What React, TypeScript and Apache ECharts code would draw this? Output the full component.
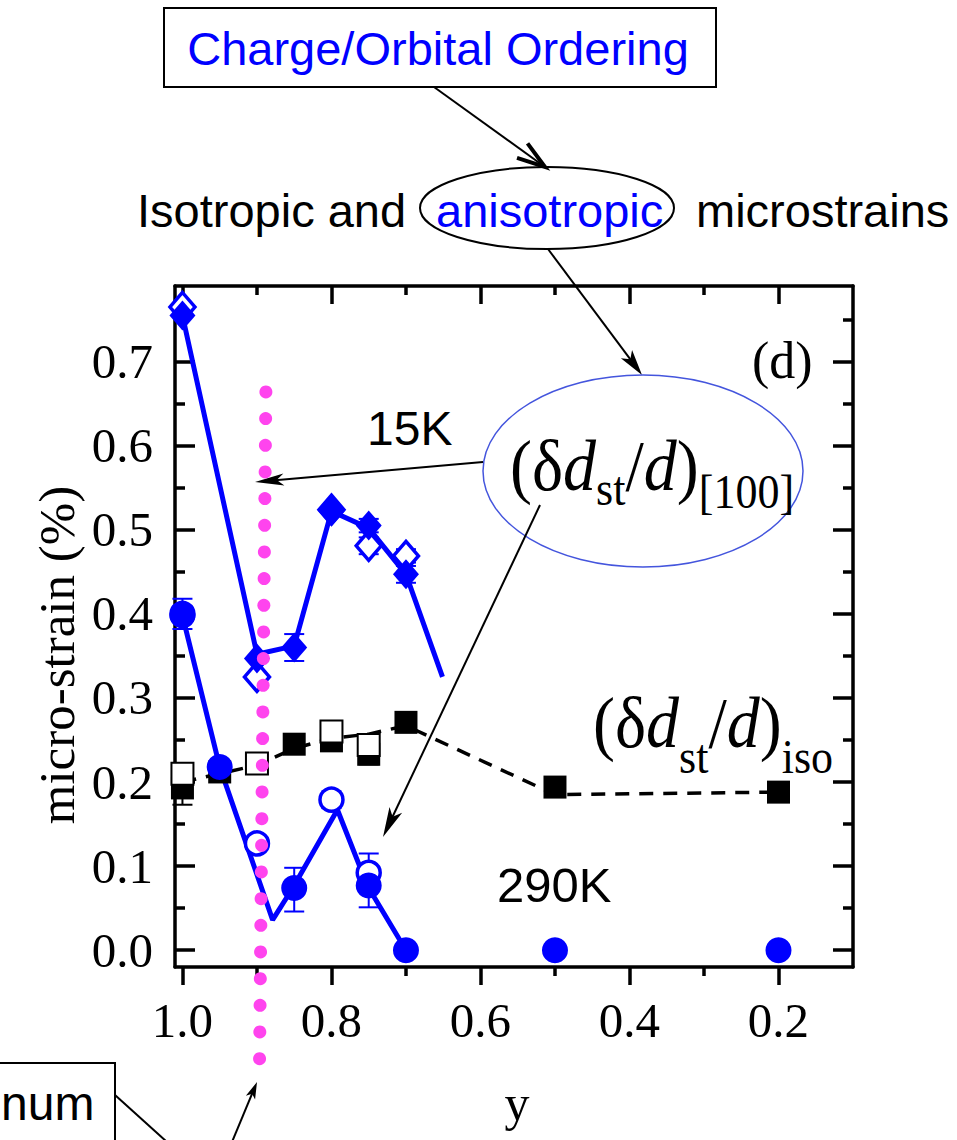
import { useEffect, useRef } from 'react';
import * as echarts from 'echarts';

// Axis ticks
const xMajorTicks = [1.0, 0.8, 0.6, 0.4, 0.2];
const xMinorTicks = [0.9, 0.7, 0.5, 0.3];
const yMajorTicks = [0.0, 0.1, 0.2, 0.3, 0.4, 0.5, 0.6, 0.7];
const yMinorTicks = [0.05, 0.15, 0.25, 0.35, 0.45, 0.55, 0.65, 0.75];

// Anisotropic [100] micro-strain, 15 K
const aniso15KFilled = [[1.0, 0.755], [0.9, 0.347], [0.85, 0.36], [0.8, 0.522], [0.75, 0.505], [0.7, 0.447]];
const aniso15KOpen = [[1.0, 0.765], [0.9, 0.325], [0.8, 0.524], [0.75, 0.481], [0.7, 0.469]];
const aniso15KFit = [[1.0, 0.755], [0.9, 0.352], [0.85, 0.362], [0.8, 0.522], [0.75, 0.502], [0.7, 0.447], [0.651, 0.325]];

// Anisotropic [100] micro-strain, 290 K
const aniso290KFilled = [[1.0, 0.398], [0.95, 0.218], [0.85, 0.074], [0.75, 0.077], [0.7, 0.0], [0.5, 0.0], [0.2, 0.0]];
const aniso290KOpen = [[1.0, 0.4], [0.9, 0.127], [0.8, 0.179], [0.75, 0.092]];
const aniso290KFit = [[1.0, 0.398], [0.95, 0.218], [0.879, 0.036], [0.852, 0.074], [0.792, 0.167], [0.752, 0.077], [0.7, 0.0]];

// Isotropic micro-strain
const isoFilled = [[1.0, 0.193], [0.95, 0.212], [0.85, 0.245], [0.8, 0.249], [0.75, 0.233], [0.7, 0.271], [0.5, 0.194], [0.2, 0.188]];
const isoOpen = [[1.0, 0.21], [0.9, 0.222], [0.8, 0.26], [0.75, 0.244]];
const isoFit = [[1.0, 0.2], [0.95, 0.21], [0.9, 0.22], [0.85, 0.24], [0.8, 0.252], [0.75, 0.257], [0.7, 0.267], [0.5, 0.185], [0.2, 0.188]];

// Error bars: [y, value, half-width]
const blueErrors = [
  [0.85, 0.36, 0.016], [0.75, 0.505, 0.008], [0.7, 0.447, 0.01], [0.75, 0.481, 0.01], [0.7, 0.469, 0.008],
  [0.85, 0.072, 0.026], [0.75, 0.083, 0.032], [0.8, 0.179, 0.01], [1.0, 0.4, 0.018],
];
const blackErrors = [[1.0, 0.193, 0.02], [0.8, 0.249, 0.012], [0.75, 0.233, 0.012]];

// Dotted guide at the composition of the minimum: end points and number of gaps
const guideLine = [[0.8965, -0.129], [0.888, 0.664]];
const guideGaps = 25;

const BLUE = '#0000ff';
const PINK = '#ff44ee';
const SERIF = 'Liberation Serif';
const SANS = 'Liberation Sans';

const ctx = typeof document !== 'undefined' ? document.createElement('canvas').getContext('2d') : null;
function textWidth(t: string, font: string): number {
  if (!ctx) return t.length * 20;
  ctx.font = font;
  return ctx.measureText(t).width;
}

type Piece = { t: string; size: number; italic?: boolean; dy?: number };

// Lays out a formula on a common baseline, stretched slightly upward
function formula(pieces: Piece[], x0: number, base: number, stretch: number) {
  let x = x0;
  const out: any[] = [];
  for (const p of pieces) {
    out.push({
      type: 'text',
      x,
      y: (p.dy || 0) / stretch - 0.3375 * p.size,
      style: {
        text: p.t,
        fontFamily: SERIF,
        fontSize: p.size,
        fontStyle: p.italic ? 'italic' : 'normal',
        fill: '#000',
        align: 'left',
        verticalAlign: 'middle',
      },
    });
    x += textWidth(p.t, `${p.italic ? 'italic ' : ''}${p.size}px "${SERIF}"`);
  }
  return { type: 'group', x: 0, y: base, scaleY: stretch, children: out };
}

function sansText(text: string, x: number, base: number, size: number, fill = '#000', align = 'left') {
  return {
    type: 'text',
    x,
    y: base - 0.3465 * size,
    style: { text, fontFamily: SANS, fontSize: size, fill, align, verticalAlign: 'middle' },
  };
}

function arrow(x1: number, y1: number, x2: number, y2: number, headLen: number, headHalf: number, open = false, width = 2) {
  const dx = x2 - x1;
  const dy = y2 - y1;
  const L = Math.hypot(dx, dy);
  const ux = dx / L;
  const uy = dy / L;
  const bx = x2 - ux * headLen;
  const by = y2 - uy * headLen;
  const px = -uy;
  const py = ux;
  const p1 = [bx + px * headHalf, by + py * headHalf];
  const p2 = [bx - px * headHalf, by - py * headHalf];
  const shaftEnd = open ? [x2, y2] : [x2 - ux * headLen * 0.7, y2 - uy * headLen * 0.7];
  return [
    { type: 'line', shape: { x1, y1, x2: shaftEnd[0], y2: shaftEnd[1] }, style: { stroke: '#000', lineWidth: width } },
    open
      ? { type: 'polyline', shape: { points: [p1, [x2, y2], p2] }, style: { stroke: '#000', lineWidth: 4, fill: 'none' } }
      : { type: 'polygon', shape: { points: [[x2, y2], p1, [x2 - ux * headLen * 0.75, y2 - uy * headLen * 0.75], p2] }, style: { fill: '#000' } },
  ];
}

function errorSeries(data: number[][], color: string, z: number) {
  return {
    type: 'custom',
    xAxisIndex: 0,
    yAxisIndex: 0,
    z,
    encode: { x: 0, y: 1 },
    data,
    renderItem: (_params: any, api: any) => {
      const x = api.value(0);
      const v = api.value(1);
      const e = api.value(2);
      const top = api.coord([x, v + e]);
      const bot = api.coord([x, v - e]);
      const hw = 10;
      const st = { stroke: color, lineWidth: 2 };
      return {
        type: 'group',
        children: [
          { type: 'line', shape: { x1: top[0], y1: top[1], x2: bot[0], y2: bot[1] }, style: st },
          { type: 'line', shape: { x1: top[0] - hw, y1: top[1], x2: top[0] + hw, y2: top[1] }, style: st },
          { type: 'line', shape: { x1: bot[0] - hw, y1: bot[1], x2: bot[0] + hw, y2: bot[1] }, style: st },
        ],
      };
    },
  };
}

const AXIS_W = 3.5;

function xAxisDef(position: 'bottom' | 'top', ticks: number[], len: number, inside: boolean, labels: boolean, line: boolean) {
  return {
    type: 'value',
    min: 0.1,
    max: 1.01,
    inverse: true,
    position,
    axisLine: { show: line, onZero: false, lineStyle: { color: '#000', width: AXIS_W } },
    axisTick: { show: true, inside, length: len, customValues: ticks, lineStyle: { color: '#000', width: AXIS_W } },
    axisLabel: labels
      ? { show: true, customValues: ticks, formatter: (v: number) => v.toFixed(1), fontFamily: SERIF, fontSize: 49, color: '#000', margin: 29 }
      : { show: false },
    splitLine: { show: false },
  };
}

function yAxisDef(position: 'left' | 'right', ticks: number[], len: number, labels: boolean, line: boolean) {
  return {
    type: 'value',
    min: -0.02,
    max: 0.79,
    position,
    axisLine: { show: line, onZero: false, lineStyle: { color: '#000', width: AXIS_W } },
    axisTick: { show: true, inside: true, length: len, customValues: ticks, lineStyle: { color: '#000', width: AXIS_W } },
    axisLabel: labels
      ? { show: true, customValues: ticks, formatter: (v: number) => v.toFixed(1), fontFamily: SERIF, fontSize: 49, color: '#000', margin: 22 }
      : { show: false },
    splitLine: { show: false },
  };
}

const solid = (color: string, extra: any = {}) => ({ color, opacity: 1, ...extra });

export default function App() {
  const ref = useRef<HTMLDivElement>(null);

  useEffect(() => {
    document.body.style.margin = '0';
    if (!ref.current) return;
    const chart = echarts.init(ref.current, undefined, { renderer: 'svg' });

    const graphics: any[] = [
      // Top box and caption
      { type: 'rect', shape: { x: 164, y: 8, width: 552, height: 79 }, style: { fill: 'none', stroke: '#000', lineWidth: 2 } },
      sansText('Charge/Orbital Ordering', 438, 65, 47, BLUE, 'center'),
      ...arrow(434, 87, 545, 167, 28, 9, true, 2),
      sansText('Isotropic and', 137, 227, 47),
      sansText('anisotropic', 436, 227, 47, BLUE),
      sansText('microstrains', 696, 227, 47),
      { type: 'ellipse', shape: { cx: 547, cy: 208, rx: 127, ry: 41 }, style: { fill: 'none', stroke: '#000', lineWidth: 2 } },
      ...arrow(548, 249, 642, 375, 26, 7),
      // [100] label
      { type: 'ellipse', shape: { cx: 643, cy: 471, rx: 160, ry: 96 }, style: { fill: 'none', stroke: '#4455dd', lineWidth: 1.5 } },
      formula(
        [
          { t: '(δ', size: 66 },
          { t: 'd', size: 66, italic: true },
          { t: 'st', size: 44, dy: 15 },
          { t: '/', size: 66 },
          { t: 'd', size: 66, italic: true },
          { t: ')', size: 66 },
          { t: '[100]', size: 44, dy: 18 },
        ],
        510,
        490,
        1.1,
      ),
      ...arrow(483, 462, 255, 482, 29, 6),
      ...arrow(540, 505, 383, 837, 30, 7),
      // iso label
      formula(
        [
          { t: '(δ', size: 66 },
          { t: 'd', size: 66, italic: true },
          { t: 'st', size: 44, dy: 26 },
          { t: '/', size: 66 },
          { t: 'd', size: 66, italic: true },
          { t: ')', size: 66 },
          { t: 'iso', size: 44, dy: 26 },
        ],
        593,
        747,
        1.1,
      ),
      sansText('15K', 367, 445, 48),
      sansText('290K', 497, 902, 49),
      {
        type: 'text', x: 752, y: 378 - 0.3375 * 52,
        style: { text: '(d)', fontFamily: SERIF, fontSize: 52, fill: '#000', align: 'left', verticalAlign: 'middle' },
      },
      // Axis titles
      {
        type: 'text', x: 57, y: 655, rotation: Math.PI / 2,
        style: { text: 'micro-strain (%)', fontFamily: SERIF, fontSize: 51, fill: '#000', align: 'center', verticalAlign: 'middle' },
      },
      {
        type: 'text', x: 517, y: 1120 - 0.3375 * 50,
        style: { text: 'y', fontFamily: SERIF, fontSize: 50, fill: '#000', align: 'center', verticalAlign: 'middle' },
      },
      // Lower-left note
      { type: 'rect', shape: { x: -10, y: 1063, width: 125, height: 100 }, style: { fill: 'none', stroke: '#000', lineWidth: 2 } },
      sansText('num', 1, 1120, 48),
      { type: 'line', shape: { x1: 115, y1: 1095, x2: 167, y2: 1142 }, style: { stroke: '#000', lineWidth: 2 } },
      ...arrow(232, 1142, 257, 1082, 17, 5),
    ];

    chart.setOption({
      animation: false,
      backgroundColor: '#fff',
      grid: { left: 175, right: 104, top: 286, bottom: 173 },
      xAxis: [
        xAxisDef('bottom', xMajorTicks, 18, false, true, true),
        xAxisDef('bottom', xMinorTicks, 9, false, false, false),
        xAxisDef('top', xMajorTicks, 18, true, false, true),
        xAxisDef('top', xMinorTicks, 9, true, false, false),
      ],
      yAxis: [
        yAxisDef('left', yMajorTicks, 20, true, true),
        yAxisDef('left', yMinorTicks, 10, false, false),
        yAxisDef('right', yMajorTicks, 20, false, true),
        yAxisDef('right', yMinorTicks, 10, false, false),
      ],
      series: [
        {
          type: 'line', data: isoFit, symbol: 'none', z: 2,
          lineStyle: { color: '#000', width: 3.5, type: [14, 10], opacity: 1 },
        },
        { type: 'line', data: aniso15KFit, symbol: 'none', z: 2, lineStyle: { color: BLUE, width: 5, opacity: 1 } },
        { type: 'line', data: aniso290KFit, symbol: 'none', z: 2, lineStyle: { color: BLUE, width: 5, opacity: 1 } },
        errorSeries(blackErrors, '#000', 3),
        { type: 'scatter', data: isoFilled, symbol: 'rect', symbolSize: 23, z: 3, itemStyle: solid('#000') },
        {
          type: 'scatter', data: isoOpen, symbol: 'rect', symbolSize: 22, z: 4,
          itemStyle: solid('#fff', { borderColor: '#000', borderWidth: 2 }),
        },
        errorSeries(blueErrors, BLUE, 5),
        {
          type: 'scatter', data: aniso15KOpen, symbol: 'diamond', symbolSize: [25, 29], z: 5,
          itemStyle: solid('#fff', { borderColor: BLUE, borderWidth: 3.5 }),
        },
        {
          type: 'scatter', data: aniso290KOpen, symbol: 'circle', symbolSize: 23, z: 5,
          itemStyle: solid('#fff', { borderColor: BLUE, borderWidth: 3.5 }),
        },
        { type: 'scatter', data: aniso15KFilled, symbol: 'diamond', symbolSize: [26, 30], z: 6, itemStyle: solid(BLUE) },
        { type: 'scatter', data: aniso290KFilled, symbol: 'circle', symbolSize: 26, z: 6, itemStyle: solid(BLUE) },
      ],
      graphic: { elements: graphics },
    });

    // Dotted magenta guide, placed through the axes' own scales
    const a = chart.convertToPixel({ xAxisIndex: 0, yAxisIndex: 0 }, guideLine[0]) as number[];
    const b = chart.convertToPixel({ xAxisIndex: 0, yAxisIndex: 0 }, guideLine[1]) as number[];
    const dots: any[] = [];
    for (let i = 0; i <= guideGaps; i++) {
      const t = i / guideGaps;
      dots.push({
        type: 'circle',
        z: 100,
        shape: { cx: a[0] + (b[0] - a[0]) * t, cy: a[1] + (b[1] - a[1]) * t, r: 6.5 },
        style: { fill: PINK },
      });
    }
    chart.setOption({ graphic: { elements: [...graphics, ...dots] } });

    return () => chart.dispose();
  }, []);

  return <div ref={ref} style={{ width: 957, height: 1140, position: 'absolute', left: 0, top: 0 }} />;
}
